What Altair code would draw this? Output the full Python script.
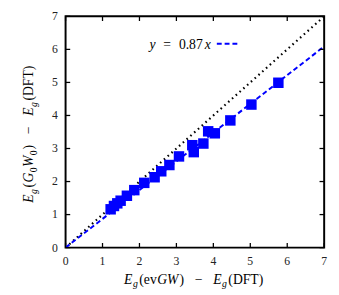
import altair as alt
import pandas as pd

# ---- data ----
x_evgw = [1.22, 1.31, 1.40, 1.49, 1.66, 1.86, 2.13, 2.41, 2.59, 2.81, 3.07,
          3.43, 3.47, 3.73, 3.86, 4.04, 4.46, 5.03, 5.76]
y_g0w0 = [1.16, 1.26, 1.34, 1.42, 1.57, 1.74, 1.96, 2.13, 2.31, 2.50, 2.76,
          3.10, 2.89, 3.15, 3.52, 3.46, 3.85, 4.33, 4.99]
line_x = [0, 7]
slope = 0.87
diag_y = [0, 7]
fit_y = [v * slope for v in line_x]
ticks = [0, 1, 2, 3, 4, 5, 6, 7]
tick_labels = ["0", "1", "2", "3", "4", "5", "6", "7"]

W, H = 265, 237
FONT = "Liberation Serif"
BLUE = "#0000ff"

xs = alt.Scale(domain=[0, 7], nice=False, zero=False)
ys = alt.Scale(domain=[0, 7], nice=False, zero=False)

pts = pd.DataFrame({"x": x_evgw, "y": y_g0w0})
diag = pd.DataFrame({"x": line_x, "y": diag_y})
fit = pd.DataFrame({"x": line_x, "y": fit_y})

diag_line = alt.Chart(diag).mark_line(color="black", strokeWidth=2.2, strokeDash=[1.6, 3.6],
                                      clip=True).encode(
    x=alt.X("x:Q", scale=xs, axis=None),
    y=alt.Y("y:Q", scale=ys, axis=None))
fit_line = alt.Chart(fit).mark_line(color=BLUE, strokeWidth=2, strokeDash=[5, 3],
                                    clip=True).encode(x="x:Q", y="y:Q")
squares = alt.Chart(pts).mark_square(color=BLUE, opacity=1, size=115).encode(
    x="x:Q", y="y:Q")

# inward ticks on all four sides
def tick_layer(xv, yv, path):
    df = pd.DataFrame({"x": xv, "y": yv})
    return alt.Chart(df).mark_point(shape=path, size=90, filled=False, stroke="black",
                                    strokeWidth=1.3, opacity=1).encode(x="x:Q", y="y:Q")

tk = [tick_layer(ticks, [0] * 8, "M0,0L0,-1"),
      tick_layer(ticks, [7] * 8, "M0,0L0,1"),
      tick_layer([0] * 8, ticks, "M0,0L1,0"),
      tick_layer([7] * 8, ticks, "M0,0L-1,0")]

# tick labels, placed through the scales
lab_df = pd.DataFrame({"v": ticks, "t": tick_labels})
xlabels = alt.Chart(lab_df).mark_text(font=FONT, fontSize=12, color="#222",
                                      baseline="top", align="center").encode(
    x="v:Q", y=alt.value(H + 9), text="t:N")
ylabels = alt.Chart(lab_df).mark_text(font=FONT, fontSize=12, color="#222",
                                      baseline="middle", align="right").encode(
    y="v:Q", x=alt.value(-8), text="t:N")

# ---- rich-text labels built from pieces ----
WID = {"(": .333, ")": .333, "e": .444, "v": .5, "D": .722, "F": .556, "T": .611,
       "−": .564, "=": .564, "0": .5, ".": .25, "8": .5, "7": .5,
       "E": .611, "g": .5, "G": .722, "W": .833, "y": .444, "x": .444}

def piece_width(s, size):
    return sum(WID.get(c, .5) for c in s) * size

def text_piece(s, px, py, size, italic, angle=0):
    return alt.Chart(pd.DataFrame({"t": [s]})).mark_text(
        font=FONT, fontSize=size, fontStyle="italic" if italic else "normal",
        align="left", baseline="alphabetic", angle=angle, color="black").encode(
        text="t:N", x=alt.value(px), y=alt.value(py))

def rich(pieces, start, base, F, S, vertical=False):
    # pieces: (text, italic, sub, gap_before)
    layers = []
    pos = start
    for s, it, sub, gap in pieces:
        pos += gap
        size = S if sub else F
        shift = 3.5 if sub else 0
        if vertical:
            layers.append(text_piece(s, base + shift, pos, size, it, angle=270))
            pos -= piece_width(s, size)
        else:
            layers.append(text_piece(s, pos, base + shift, size, it))
            pos += piece_width(s, size)
    return layers

xt = [("E", True, False, 0), ("g", True, True, 0.5), ("(ev", False, False, 1.5),
      ("GW", True, False, 0.5), (")", False, False, 1), ("−", False, False, 11),
      ("E", True, False, 11), ("g", True, True, 0.5), ("(DFT)", False, False, 1.5)]
x_title = rich(xt, 60, 274, 14, 10)

yt = [("E", True, False, 0), ("g", True, True, -0.5), ("(", False, False, -1.5),
      ("G", True, False, -0.5), ("0", False, True, -0.3), ("W", True, False, -0.5),
      ("0", False, True, -0.3), (")", False, False, -1), ("−", False, False, -11),
      ("E", True, False, -11), ("g", True, True, -0.5), ("(DFT)", False, False, -1.5)]
y_title = rich(yt, 191, -33, 14, 10, vertical=True)

lg = [("y", True, False, 0), ("=", False, False, 8), ("0.87", False, False, 8),
      ("x", True, False, 2)]
legend_text = rich(lg, 86, 33, 14, 10)

legend_dash = alt.Chart(pd.DataFrame({"a": [0]})).mark_rule(
    color=BLUE, strokeWidth=2, strokeDash=[5, 3]).encode(
    x=alt.value(155), x2=alt.value(179), y=alt.value(28))

chart = alt.layer(diag_line, fit_line, squares, *tk, xlabels, ylabels, legend_dash,
                  *legend_text, *x_title, *y_title).properties(
    width=W, height=H,
    autosize=alt.AutoSizeParams(type="none"),
    padding={"left": 59, "top": 5, "right": 7, "bottom": 45},
    background="white",
).configure_view(stroke="black", strokeWidth=2)

chart.save("out.html", embed_options={"renderer": "svg", "actions": False})
